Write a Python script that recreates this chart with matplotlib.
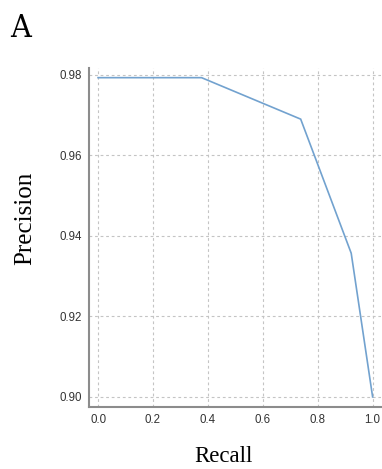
import matplotlib
matplotlib.use("Agg")
import matplotlib.pyplot as plt

recall = [0.0, 0.377, 0.738, 0.922, 1.0]
precision = [0.9793, 0.9793, 0.9690, 0.9357, 0.9000]
xticks = [0.0, 0.2, 0.4, 0.6, 0.8, 1.0]
yticks = [0.90, 0.92, 0.94, 0.96, 0.98]

fig = plt.figure(figsize=(3.82, 4.69), dpi=100)
ax = fig.add_axes([0.233, 0.1322, 0.764, 0.7228])

ax.plot(recall, precision, color="#72a2cf", lw=1.2, solid_joinstyle="miter")

ax.set_xlim(-0.033, 1.03)
ax.set_ylim(0.8975, 0.9817)
ax.set_xticks(xticks)
ax.set_xticklabels([f"{v:.1f}" for v in xticks])
ax.set_yticks(yticks)
ax.set_yticklabels([f"{v:.2f}" for v in yticks])

ax.grid(True, color="#c4c4c4", lw=0.8, linestyle=(0, (2.5, 2.5)))
ax.set_axisbelow(True)
for s in ["top", "right"]:
    ax.spines[s].set_visible(False)
for s in ["left", "bottom"]:
    ax.spines[s].set_color("#8c8c8c")
    ax.spines[s].set_linewidth(1.5)

ax.tick_params(length=0, pad=5, labelsize=8.3, labelcolor="#333333")
for lab in ax.get_xticklabels() + ax.get_yticklabels():
    lab.set_fontfamily("Liberation Sans")

ax.set_ylabel("Precision", fontfamily="Liberation Serif", fontsize=18)
ax.yaxis.set_label_coords(-0.219, 0.556)
ax.yaxis.label.set_va("center")
ax.set_xlabel("Recall", fontfamily="Liberation Serif", fontsize=16.5)
ax.xaxis.set_label_coords(0.462, -0.147)
ax.xaxis.label.set_va("center")

fig.text(21 / 382, 1 - 37 / 469, "A", fontfamily="DejaVu Serif",
         fontstretch="condensed", fontsize=23, ha="center", va="baseline")

fig.savefig("out.png", dpi=100)
